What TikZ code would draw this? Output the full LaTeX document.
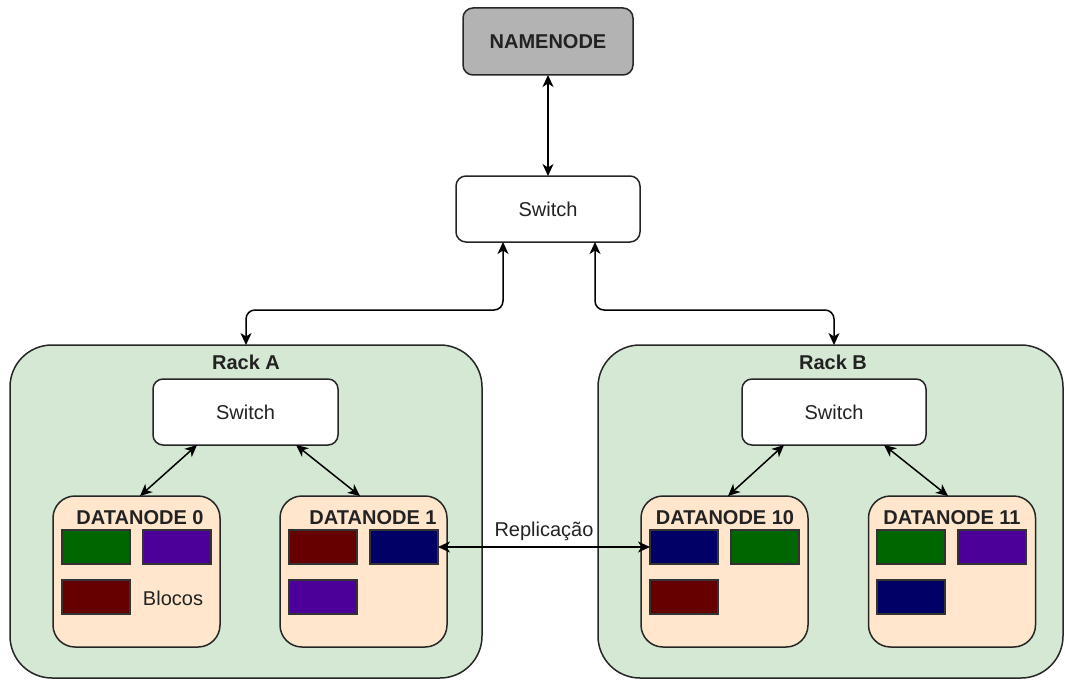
\documentclass[tikz,border=0pt]{standalone}
\usepackage{fontspec}
\setmainfont{Liberation Sans}
\usetikzlibrary{arrows.meta,calc}
\definecolor{rackfill}{HTML}{D5E8D4}
\definecolor{dnfill}{HTML}{FFE6CC}
\definecolor{nnfill}{HTML}{B3B3B3}
\definecolor{bgreen}{HTML}{006600}
\definecolor{bpurple}{HTML}{4C0099}
\definecolor{bred}{HTML}{660000}
\definecolor{bblue}{HTML}{000066}
\definecolor{txtcol}{HTML}{222222}
\begin{document}
\begin{tikzpicture}[x=1pt,y=-1pt,
  every node/.style={inner sep=0pt, outer sep=0pt, text=txtcol},
  rtxt/.style={font=\fontsize{20}{24}\selectfont},
  btxt/.style={font=\fontsize{20}{24}\selectfont\bfseries},
  rbox/.style={draw=black!85, line width=1.5pt, rounded corners=10pt, fill=white, rtxt},
  nnbox/.style={rbox, fill=nnfill, btxt},
  rackbox/.style={draw=black!85, line width=1.5pt, rounded corners=42pt, fill=rackfill, minimum width=#1, minimum height=333pt},
  dnbox/.style={draw=black!85, line width=1.5pt, rounded corners=22pt, fill=dnfill, minimum width=167pt, minimum height=151pt},
  blk/.style={draw=black!80, line width=1.1pt, fill=#1, minimum width=68pt, minimum height=34pt},
  biarrow/.style={{Stealth[length=12pt,width=11pt,inset=3.5pt]}-{Stealth[length=12pt,width=11pt,inset=3.5pt]}, line width=1.5pt, draw=black}
]
\useasboundingbox (0,0) rectangle (1065,682);

% top level
\node[nnbox, minimum width=170pt, minimum height=67pt] (nn) at (548,41.5) {NAMENODE};
\node[rbox, minimum width=184pt, minimum height=66pt] (ts) at (548,209) {Switch};

% racks
\node[rackbox=472pt] (ra) at (246,511.5) {};
\node[rackbox=465pt] (rb) at (830.5,511.5) {};
\node[btxt] (ral) at (246,362) {Rack A};
\node[btxt] (rbl) at (833,362) {Rack B};

% rack switches
\node[rbox, minimum width=185pt, minimum height=66pt] (sa) at (245.5,412) {Switch};
\node[rbox, minimum width=184pt, minimum height=66pt] (sb) at (834,412) {Switch};

% datanodes
\node[dnbox] (dn0) at (136.5,571.5) {};
\node[dnbox] (dn1) at (363.5,571.5) {};
\node[dnbox] (dn10) at (724.5,571.5) {};
\node[dnbox] (dn11) at (952,571.5) {};
\node[btxt] (dn0l) at (140,518) {DATANODE 0};
\node[btxt] (dn1l) at (373,518) {DATANODE 1};
\node[btxt] (dn10l) at (725,518) {DATANODE 10};
\node[btxt] (dn11l) at (952,518) {DATANODE 11};

% blocks
\node[blk=bgreen] (b0a) at (96,547) {};
\node[blk=bpurple] (b0b) at (177,547) {};
\node[blk=bred] (b0c) at (96,597) {};
\node[rtxt] (blocos) at (173,598) {Blocos};

\node[blk=bred] (b1a) at (323,547) {};
\node[blk=bblue] (b1b) at (404,547) {};
\node[blk=bpurple] (b1c) at (323,597) {};

\node[blk=bblue] (b10a) at (684,547) {};
\node[blk=bgreen] (b10b) at (765,547) {};
\node[blk=bred] (b10c) at (684,597) {};

\node[blk=bgreen] (b11a) at (911,547) {};
\node[blk=bpurple] (b11b) at (992,547) {};
\node[blk=bblue] (b11c) at (911,597) {};

% connectors
\draw[biarrow] (nn.south) -- (ts.north);
\draw[biarrow, rounded corners=9pt] ([xshift=-45pt]ts.south) |- ([yshift=35pt]ra.north) -- (ra.north);
\draw[biarrow, rounded corners=9pt] ([xshift=47pt]ts.south) |- ([xshift=3.5pt,yshift=35pt]rb.north) -- ([xshift=3.5pt]rb.north);

\draw[biarrow] ([xshift=-48.5pt]sa.south) -- ([xshift=3.5pt]dn0.north);
\draw[biarrow] ([xshift=50.5pt]sa.south) -- ([xshift=-3.5pt]dn1.north);
\draw[biarrow] ([xshift=-50pt]sb.south) -- ([xshift=3.5pt]dn10.north);
\draw[biarrow] ([xshift=50pt]sb.south) -- ([xshift=-4pt]dn11.north);

\draw[biarrow] (b1b.east) -- node[rtxt, above=6pt] (repl) {Replicação} (b10a.west);
\end{tikzpicture}
\end{document}
